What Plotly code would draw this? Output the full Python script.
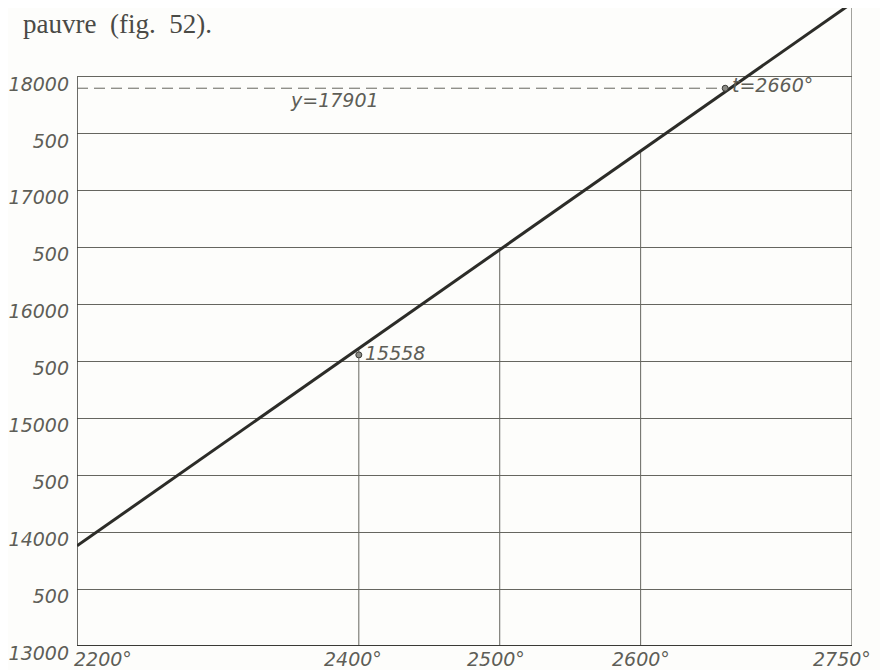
import plotly.graph_objects as go

# ---- data ----
line_t = [2200, 2750]            # temperature (°)
line_y = [13880, 18650]          # value of the straight line at the ends
point_t = [2400, 2660]
point_y = [15558, 17901]
drop_t = [2400, 2500, 2600]       # vertical drop lines from curve to axis
y_ticks = [13000, 13500, 14000, 14500, 15000, 15500, 16000, 16500, 17000, 17500, 18000]
y_ticktext = ["13000", "500", "14000", "500", "15000", "500", "16000", "500", "17000", "500", "18000"]
x_ticks = [2200, 2400, 2500, 2600, 2750]
x_ticktext = ["2200°", "2400°", "2500°", "2600°", "2750°"]

ink = "#3a3a36"
grid = "#66665f"
hand = dict(family="DejaVu Sans", size=19, color="#5e5e57", style="italic")

def line_at(t):
    return line_y[0] + (line_y[1] - line_y[0]) * (t - line_t[0]) / (line_t[1] - line_t[0])

fig = go.Figure()

# vertical drop lines
for t in drop_t:
    fig.add_trace(go.Scatter(x=[t, t], y=[y_ticks[0], line_at(t)], mode="lines",
                             line=dict(color=grid, width=1), hoverinfo="skip", cliponaxis=False))
# frame: left axis (to 18000), right border (to line end), bottom axis
fig.add_trace(go.Scatter(x=[line_t[0], line_t[0]], y=[y_ticks[0], y_ticks[-1]], mode="lines",
                         line=dict(color=ink, width=1.5), hoverinfo="skip", cliponaxis=False))
fig.add_trace(go.Scatter(x=[line_t[1], line_t[1]], y=[y_ticks[0], line_y[1]], mode="lines",
                         line=dict(color=grid, width=1.2), hoverinfo="skip", cliponaxis=False))
fig.add_trace(go.Scatter(x=[line_t[0], line_t[1]], y=[y_ticks[0], y_ticks[0]], mode="lines",
                         line=dict(color=ink, width=2), hoverinfo="skip", cliponaxis=False))
# dashed line y = 17901
fig.add_trace(go.Scatter(x=[line_t[0], point_t[1]], y=[point_y[1], point_y[1]], mode="lines",
                         line=dict(color=grid, width=1, dash="11px,6px"), hoverinfo="skip", cliponaxis=False))
# main line
fig.add_trace(go.Scatter(x=line_t, y=line_y, mode="lines",
                         line=dict(color="#2c2c28", width=3), hoverinfo="skip", cliponaxis=False))
# points
fig.add_trace(go.Scatter(x=point_t, y=point_y, mode="markers",
                         marker=dict(size=6, color="#8a8a84", line=dict(color="#3a3a36", width=1)),
                         hoverinfo="skip", cliponaxis=False))

annotations = [
    dict(x=-0.071, y=1.0, xref="paper", yref="paper", text="pauvre&nbsp; (fig.&nbsp; 52).", showarrow=False,
         xanchor="left", yanchor="top", yshift=0, borderpad=0,
         font=dict(family="Liberation Serif", size=27, color="#4a4a46")),
    dict(x=point_t[0], y=point_y[0], text="15558", showarrow=False, xanchor="left", yanchor="middle",
         xshift=4, yshift=2, font=hand),
    dict(x=point_t[1], y=point_y[1], text="t=2660°", showarrow=False, xanchor="left", yanchor="middle",
         xshift=5, yshift=3, font=hand),
    dict(x=2350, y=point_y[1], text="y=17901", showarrow=False, xanchor="left", yanchor="top",
         yshift=1, font=hand),
]
# x tick labels as annotations (individual offsets like the hand lettering)
x_shifts = [26, -6, -4, 0, -10]
for t, txt, s in zip(x_ticks, x_ticktext, x_shifts):
    annotations.append(dict(x=t, y=0, xref="x", yref="paper", text=txt, showarrow=False,
                            xanchor="center", yanchor="top", xshift=s, yshift=0, font=hand))

fig.update_layout(
    width=880, height=662,
    margin=dict(l=69, r=36, t=0, b=24),
    paper_bgcolor="#fdfdfb", plot_bgcolor="#fdfdfb",
    showlegend=False,
    annotations=annotations,
    xaxis=dict(range=[line_t[0], line_t[1]], showgrid=False, zeroline=False, showline=False,
               showticklabels=False, ticks=""),
    yaxis=dict(range=[13000, 18606], tickvals=y_ticks, ticktext=y_ticktext,
               showgrid=True, gridcolor=grid, gridwidth=1, zeroline=False, showline=False,
               ticks="", tickfont=hand, ticklabelstandoff=7, ticklabelshift=7),
)

fig.write_html("out.html")
